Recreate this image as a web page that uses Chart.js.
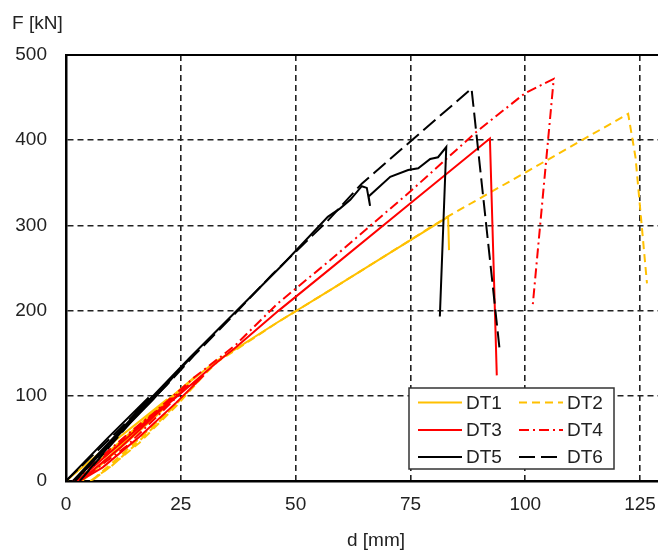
<!DOCTYPE html>
<html>
<head>
<meta charset="utf-8">
<script src="https://cdn.jsdelivr.net/npm/chart.js@4"></script>
<style>
  html, body { margin: 0; padding: 0; background: #fff; }
</style>
</head>
<body>
<canvas id="chart" width="658" height="554"></canvas>
<script>
// Data (d [mm], F [kN])
const dt1X = [0, 8, 16, 22, 14, 7, 2.5, 10, 20, 28, 20, 11, 3.5, 14, 25, 32.5, 37, 46, 57.5, 70, 83.2, 83.4];
const dt1Y = [0, 36, 70, 96, 55, 22, 0, 38, 85, 122, 78, 35, 0, 52, 108, 140, 155, 186, 224, 266, 310, 271];

const dt2X = [5.3, 10, 15, 20, 25, 30, 24, 16, 9, 5.5, 14, 22, 30, 33, 37, 46, 57.5, 70, 83, 100, 122.4, 124, 126.5];
const dt2Y = [0, 18, 42, 68, 96, 124, 88, 45, 14, 0, 40, 80, 124, 140, 154, 186, 224, 266, 310, 362, 431, 380, 232];

const dt3X = [2.4, 8, 14, 20, 26, 30, 24, 16, 8, 3, 12, 20, 27, 33, 37, 46.3, 57.5, 75, 92.3, 93.8];
const dt3Y = [0, 26, 54, 82, 108, 124, 92, 52, 16, 0, 40, 80, 112, 140, 157, 200, 249, 326, 402, 124];

const dt4X = [1.5, 8, 15, 22, 27, 21, 13, 5, 2, 10, 20, 28, 33, 37, 46, 57.5, 75, 89.4, 99.9, 106.2, 101.6];
const dt4Y = [0, 30, 62, 92, 114, 82, 40, 8, 0, 36, 84, 122, 143, 160, 208, 259, 340, 410, 455, 472, 205];

const dt5X = [0, 9, 18, 11, 2, 10, 20, 27, 19, 10, 1.5, 14, 27, 37, 47, 57, 59.7, 61.9, 64.4, 65.5, 66.2, 65.9, 70.6, 74.5, 76.7, 79.3, 81, 82.8, 81.4];
const dt5Y = [0, 50, 98, 52, 0, 48, 104, 144, 96, 46, 0, 72, 145, 199, 253, 310, 320, 330, 346, 344, 323, 334, 357, 365, 367, 378, 380, 392, 193];

const dt6X = [0, 10, 19, 12, 3, 12, 22, 28, 36, 45, 56.9, 64.4, 75.3, 88.3, 94.5];
const dt6Y = [0, 52, 100, 56, 0, 58, 113, 148, 192, 243, 305, 349, 400, 460.6, 150];

const seriesNames = ["DT1", "DT2", "DT3", "DT4", "DT5", "DT6"];
const xTicks = [0, 25, 50, 75, 100, 125];
const yTicks = [0, 100, 200, 300, 400, 500];

const seriesX = [dt1X, dt2X, dt3X, dt4X, dt5X, dt6X];
const seriesY = [dt1Y, dt2Y, dt3Y, dt4Y, dt5Y, dt6Y];
const colors = ["#FFC000", "#FFC000", "#FF0000", "#FF0000", "#000000", "#000000"];
const dashes = [[], [8, 5], [], [10, 4, 2, 4], [], [16, 6]];
const orders = [2, 2, 1, 1, 0, 0];

const FONT = "Liberation Sans, Arial, sans-serif";
const TEXT = "#222";

function toPoints(xs, ys) {
  return xs.map((x, i) => ({ x: x, y: ys[i] }));
}

var datasets = seriesNames.map(function (name, i) {
  return {
    label: name,
    data: toPoints(seriesX[i], seriesY[i]),
    borderColor: colors[i],
    backgroundColor: colors[i],
    borderDash: dashes[i],
    borderWidth: 2,
    pointRadius: 0,
    showLine: true,
    tension: 0,
    order: orders[i],
  };
});

// top border, axis titles and the boxed legend inside the plot
var extras = {
  id: "extras",
  afterDatasetsDraw(chart) {
    var ctx = chart.ctx;
    var a = chart.chartArea;
    ctx.save();
    ctx.strokeStyle = "#000";
    ctx.lineWidth = 2;
    ctx.setLineDash([]);
    ctx.beginPath();
    ctx.moveTo(a.left, a.top);
    ctx.lineTo(a.right, a.top);
    ctx.stroke();

    ctx.fillStyle = TEXT;
    ctx.font = "19px " + FONT;
    ctx.textBaseline = "middle";
    ctx.textAlign = "left";
    ctx.fillText("F [kN]", 12, 24);
    ctx.textAlign = "center";
    ctx.fillText("d [mm]", 376, 541);

    // legend
    var bx = 409, by = 388, bw = 205, bh = 81;
    ctx.fillStyle = "#fff";
    ctx.fillRect(bx, by, bw, bh);
    ctx.strokeStyle = "#333";
    ctx.lineWidth = 1.5;
    ctx.strokeRect(bx, by, bw, bh);
    var rows = [402.5, 430, 457];
    var cols = [[418, 462, 466], [519, 563, 567]];
    ctx.textAlign = "left";
    chart.data.datasets.forEach(function (ds, i) {
      var r = Math.floor(i / 2), c = i % 2;
      var y = rows[r];
      ctx.strokeStyle = ds.borderColor;
      ctx.lineWidth = 2;
      ctx.setLineDash(ds.borderDash);
      ctx.beginPath();
      ctx.moveTo(cols[c][0], y);
      ctx.lineTo(cols[c][1], y);
      ctx.stroke();
      ctx.setLineDash([]);
      ctx.fillStyle = TEXT;
      ctx.fillText(ds.label, cols[c][2], y + 1);
    });
    ctx.restore();
  },
};

function gridColor(c) {
  var v = c.tick ? c.tick.value : null;
  if (v === 0 || v === 500) return "rgba(0,0,0,0)";
  return "#222";
}

new Chart(document.getElementById("chart"), {
  type: "scatter",
  data: { datasets: datasets },
  options: {
    responsive: false,
    animation: false,
    layout: { padding: { top: 55, right: 0, left: 0, bottom: 0 } },
    plugins: { legend: { display: false }, tooltip: { enabled: false } },
    scales: {
      x: {
        type: "linear",
        min: 0,
        max: 128.9,
        afterBuildTicks: function (scale) {
          scale.ticks = xTicks.map((v) => ({ value: v }));
        },
        afterFit: function (scale) {
          scale.height = 73;
          scale.paddingLeft = 0;
          scale.paddingRight = 0;
        },
        grid: { color: gridColor, lineWidth: 1.6, drawTicks: false },
        border: { display: true, color: "#000", width: 2.5, dash: [6, 4] },
        ticks: { color: TEXT, font: { family: FONT, size: 19 }, padding: 12, maxRotation: 0 },
      },
      y: {
        type: "linear",
        min: 0,
        max: 500,
        afterBuildTicks: function (scale) {
          scale.ticks = yTicks.map((v) => ({ value: v }));
        },
        afterFit: function (scale) {
          scale.width = 66;
          scale.paddingTop = 0;
          scale.paddingBottom = 0;
        },
        grid: { color: gridColor, lineWidth: 1.6, drawTicks: false },
        border: { display: true, color: "#000", width: 2.5, dash: [6, 4] },
        ticks: { color: TEXT, font: { family: FONT, size: 19 }, padding: 19 },
      },
    },
  },
  plugins: [extras],
});
</script>
</body>
</html>
